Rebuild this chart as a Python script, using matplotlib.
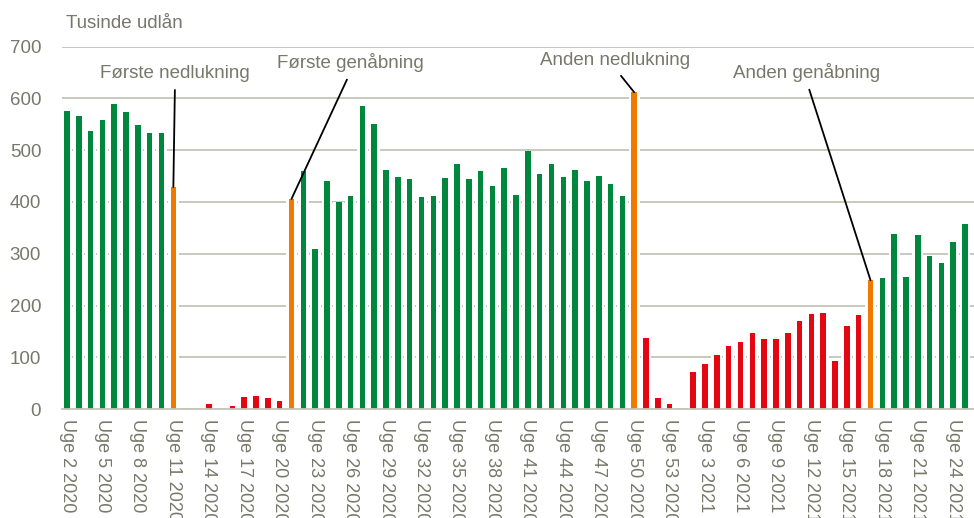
import matplotlib
matplotlib.use("Agg")
import matplotlib.pyplot as plt
import numpy as np

plt.rcParams["font.family"] = ["Liberation Sans Narrow", "Liberation Sans", "DejaVu Sans"]

# uger: 2020 uge 2-53, 2021 uge 1-25
weeks_2020 = list(range(2, 54))
weeks_2021 = list(range(1, 26))
labels = [f"Uge {w} 2020" for w in weeks_2020] + [f"Uge {w} 2021" for w in weeks_2021]

values_2020 = [575, 566, 537, 558, 590, 574, 549, 534, 534, 429,
               0, 0, 10, 0, 6, 24, 26, 21, 15, 406,
               460, 310, 440, 400, 411, 586, 551, 462, 448, 444,
               409, 411, 447, 474, 444, 459, 430, 466, 413, 498,
               454, 473, 448, 461, 441, 450, 435, 411, 612, 138,
               21, 10]
values_2021 = [0, 71, 87, 105, 122, 130, 146, 135, 135, 147,
               171, 184, 185, 93, 160, 182, 249, 254, 339, 256,
               337, 296, 283, 322, 357]
values = values_2020 + values_2021

# g = åben, o = skift, r = nedlukket
status = (["g"] * 9 + ["o"] + ["r"] * 9 + ["o"] + ["g"] * 28 + ["o"]
          + ["r"] * 3 + ["r"] * 16 + ["o"] + ["g"] * 8)

events = ["Første nedlukning", "Første genåbning", "Anden nedlukning", "Anden genåbning"]
event_idx = [i for i, s in enumerate(status) if s == "o"]

colors = {"g": "#00873e", "o": "#f07a00", "r": "#e30613"}
txt = "#77776a"

fig = plt.figure(figsize=(9.74, 5.18), dpi=100)
ax = fig.add_axes([0.0637, 0.2104, 0.9363, 0.6994])

x = np.arange(len(values))
ax.bar(x, values, width=0.92, color="white", zorder=2)
ax.bar(x, values, width=0.47, color=[colors[s] for s in status], zorder=3)

ax.set_ylim(0, 700)
ax.set_xlim(-0.42, len(values) - 0.24)
ax.set_yticks(range(0, 701, 100))
ax.yaxis.grid(True, color="#c4c4b8", lw=1.3, zorder=1)
ax.set_axisbelow(True)
for s in ["top", "right", "left"]:
    ax.spines[s].set_visible(False)
ax.spines["bottom"].set_color("#c4c4b8")
ax.spines["bottom"].set_linewidth(1.3)
ax.spines["bottom"].set_zorder(4)

ax.set_xticks(x[::3])
ax.set_xticklabels(labels[::3], rotation=270, ha="center", va="top", fontsize=13)
ax.tick_params(axis="both", length=0, colors=txt)
ax.tick_params(axis="y", labelsize=13.5, pad=15)
ax.tick_params(axis="x", pad=7)

fig.text(0.068, 0.955, "Tusinde udlån", fontsize=13.5, color=txt, ha="left", va="center")

text_pos = [(9.14, 649), (24.0, 670), (46.4, 674), (62.6, 651)]
for name, i, (tx, ty) in zip(events, event_idx, text_pos):
    ax.annotate(name, xy=(i, values[i]), xytext=(tx, ty), textcoords="data",
                ha="center", va="center", fontsize=13.5, color=txt,
                arrowprops=dict(arrowstyle="-", color="black", lw=1.3,
                                relpos=(0.5, 0.0), shrinkA=4, shrinkB=0),
                zorder=5)

fig.savefig("out.png", dpi=100)
